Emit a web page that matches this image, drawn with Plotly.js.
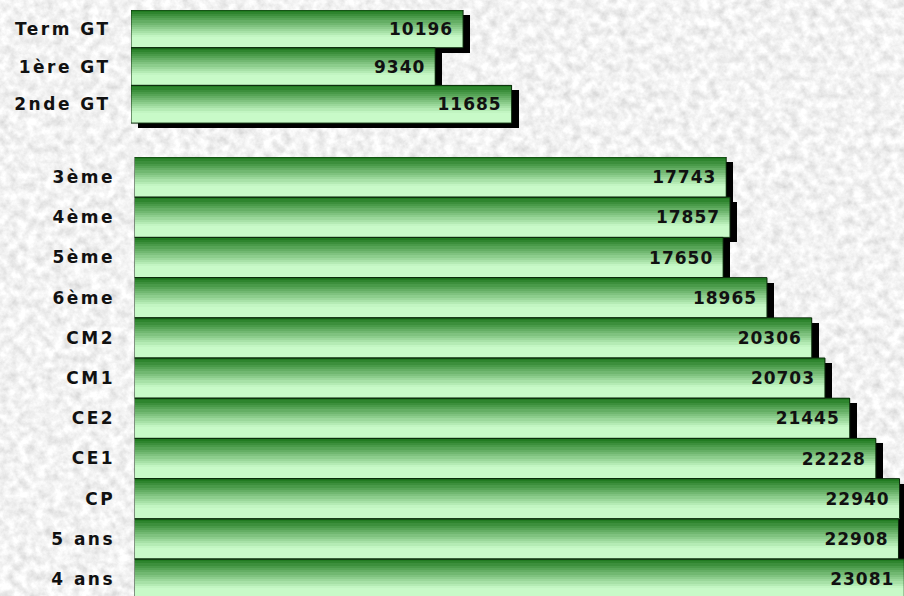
<!DOCTYPE html>
<html>
<head>
<meta charset="utf-8">
<script src="https://cdn.plot.ly/plotly-3.0.1.min.js"></script>
<style>
  html, body { margin: 0; padding: 0; }
  body {
    width: 904px; height: 596px; overflow: hidden;
    background-color: #e4e4e4;
    background-image: url("data:image/svg+xml;utf8,<svg xmlns='http://www.w3.org/2000/svg' width='904' height='596'><filter id='n' x='0' y='0' width='100%25' height='100%25'><feTurbulence type='fractalNoise' baseFrequency='0.11' numOctaves='4' seed='7'/><feColorMatrix type='matrix' values='0.5 0 0 0 0.64  0.5 0 0 0 0.64  0.5 0 0 0 0.64  0 0 0 0 1'/></filter><rect width='904' height='596' filter='url(%23n)'/></svg>");
  }
  #chart { width: 904px; height: 596px; }
  .ytick text, .y2tick text { letter-spacing: 2.5px; }
  .bartext { letter-spacing: 1px; }
</style>
</head>
<body>
<div id="chart"></div>
<script>
// ---- data ----
const categoriesTop = ['Term GT', '1ère GT', '2nde GT'];
const valuesTop = [10196, 9340, 11685];

const categoriesBottom = ['3ème', '4ème', '5ème', '6ème', 'CM2', 'CM1', 'CE2', 'CE1', 'CP', '5 ans', '4 ans'];
const valuesBottom = [17743, 17857, 17650, 18965, 20306, 20703, 21445, 22228, 22940, 22908, 23081];

// ---- styling ----
const W = 904, H = 596;
const dark = [26, 118, 26], light = [200, 250, 200];
const N = 18;
const labelFont = { family: 'DejaVu Sans', size: 17, color: '#111', weight: 700 };
const valueFont = { family: 'DejaVu Sans', size: 17, color: '#111', weight: 700 };

function stripeColor(k) {
  const t = (k + 0.5) / N;
  const s = Math.min(1, t / 0.72);
  const c = dark.map((d, i) => Math.round(d + (light[i] - d) * s));
  return 'rgb(' + c.join(',') + ')';
}

function groupTraces(cats, vals, xa, ya, shiftX, shiftY) {
  const tr = [];
  // shadow
  tr.push({
    type: 'bar', orientation: 'h', y: cats, x: vals, base: shiftX,
    offset: -0.5 + shiftY, width: 1,
    marker: { color: '#000', line: { width: 0 } },
    xaxis: xa, yaxis: ya, hoverinfo: 'skip', showlegend: false
  });
  // gradient stripes
  for (let k = 0; k < N; k++) {
    tr.push({
      type: 'bar', orientation: 'h', y: cats, x: vals,
      offset: -0.5 + k / N, width: 1.08 / N,
      marker: { color: stripeColor(k), line: { width: 0 } },
      xaxis: xa, yaxis: ya, hoverinfo: 'skip', showlegend: false
    });
  }
  // outline + value text
  tr.push({
    type: 'bar', orientation: 'h', y: cats, x: vals,
    offset: -0.5, width: 1,
    marker: { color: 'rgba(0,0,0,0)', line: { width: 1, color: '#0c2c0c' } },
    text: vals.map(String), texttemplate: '%{text}\u00a0',
    textposition: 'inside', insidetextanchor: 'end',
    textangle: 0, constraintext: 'none',
    textfont: valueFont,
    xaxis: xa, yaxis: ya, hoverinfo: 'skip', showlegend: false
  });
  return tr;
}

// pixel geometry
const topX0 = 131, topScale = 0.03257, topY0 = 10, topPitch = 37.7;
const botX0 = 134.5, botScale = 0.03335, botY0 = 157, botPitch = 40.2;
const shX = 7, shY = 5;

const traces = [].concat(
  groupTraces(categoriesTop, valuesTop, 'x', 'y', shX / topScale, shY / topPitch),
  groupTraces(categoriesBottom, valuesBottom, 'x2', 'y2', shX / botScale, shY / botPitch)
);

const topPad = 0.25;
const topBottomPx = topY0 + (categoriesTop.length + topPad) * topPitch;
const botRangeEnd = -0.5 + (H - botY0) / botPitch;

const hiddenX = { showgrid: false, zeroline: false, showticklabels: false, showline: false, ticks: '', fixedrange: true };
const catY = {
  type: 'category', showgrid: false, zeroline: false, showline: false,
  ticks: 'outside', tickcolor: 'rgba(0,0,0,0)', tickfont: labelFont, fixedrange: true
};

const layout = {
  width: W, height: H,
  margin: { l: 0, r: 0, t: 0, b: 0, pad: 0 },
  paper_bgcolor: 'rgba(0,0,0,0)', plot_bgcolor: 'rgba(0,0,0,0)',
  barmode: 'overlay', bargap: 0,
  showlegend: false,
  xaxis: Object.assign({}, hiddenX, { domain: [topX0 / W, 1], range: [0, (W - topX0) / topScale], anchor: 'y' }),
  yaxis: Object.assign({}, catY, {
    domain: [1 - topBottomPx / H, 1 - topY0 / H],
    categoryorder: 'array', categoryarray: categoriesTop,
    range: [categoriesTop.length - 0.5 + topPad, -0.5], ticklen: 16, anchor: 'x'
  }),
  xaxis2: Object.assign({}, hiddenX, { domain: [botX0 / W, 1], range: [0, (W - botX0) / botScale], anchor: 'y2' }),
  yaxis2: Object.assign({}, catY, {
    domain: [0, 1 - botY0 / H],
    categoryorder: 'array', categoryarray: categoriesBottom,
    range: [botRangeEnd, -0.5], ticklen: 15, anchor: 'x2'
  })
};

Plotly.newPlot('chart', traces, layout, { displayModeBar: false, staticPlot: true });
</script>
</body>
</html>
